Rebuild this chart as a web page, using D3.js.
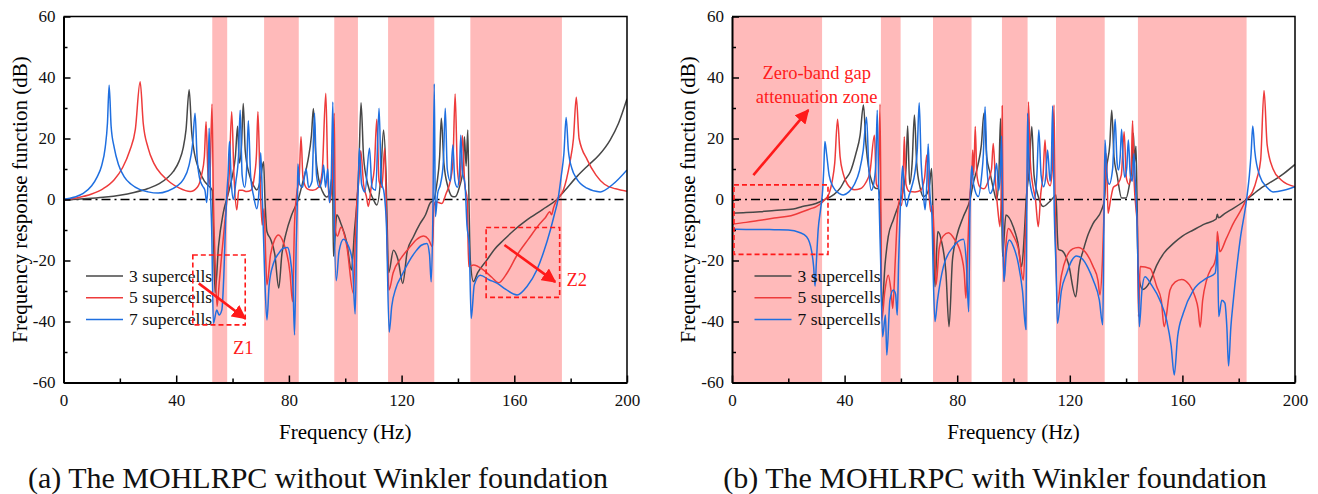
<!DOCTYPE html>
<html>
<head>
<meta charset="utf-8">
<script src="https://cdn.jsdelivr.net/npm/d3@7"></script>
<style>
  body { margin: 0; background: #fff; }
  svg text { font-family: "Liberation Serif", "Times New Roman", serif; }
</style>
</head>
<body>
<div id="chart"></div>
<script>
// ---- data (frequency Hz, FRF dB) ----
var seriesNames = ["3 supercells", "5 supercells", "7 supercells"];
var seriesColors = ["#474747", "#ee3b3b", "#1f6fe0"];

var xTicks = [0, 40, 80, 120, 160, 200];
var xMinor = [20, 60, 100, 140, 180];
var yTicks = [-60, -40, -20, 0, 20, 40, 60];
var yMinor = [-50, -30, -10, 10, 30, 50];

// band gap ranges (Hz)
var bandsA = [[52.8, 58.1], [71.2, 83.5], [96.1, 104.5], [115.2, 131.6], [144.4, 176.9]];
var bandsB = [[0, 32], [52.9, 59.9], [71.4, 85.1], [95.9, 105], [115.1, 132.4], [144.2, 182.8]];

// (a) without Winkler foundation
var a3 = [[0,0],[5,0.1],[10,0.4],[15,0.8],[20,1.4],[25,2.3],[30,3.6],[34,5.2],[37,7.2],[39,9.2],[41,12.5],[42.5,17],[43.5,23],[44.6,36],[45.5,22],[46.5,15],[48,10],[50,6],[51.5,4.5],[52.8,3],[53.2,-10],[53.8,-30.6],[55,-15.5],[56.7,-4.4],[58.5,2],[60,8],[61,14],[61.8,24],[62.4,12],[63.2,18],[63.8,31.5],[64.5,16],[66,8],[67.5,4.5],[68.6,3.1],[69.8,6],[71,12.4],[71.5,0],[72.2,-10.5],[73.5,-13],[75,-18],[76.4,-29],[77.5,-18],[79,-11],[81,-5],[83.3,0],[85,6],[86.8,13],[88,21],[88.7,29.8],[89.5,15],[90.5,7],[92,2.5],[93.5,0.8],[94.6,3],[95.5,8],[95.8,-18.7],[97,-5],[98.5,-8],[100.5,-14],[102.2,-23.1],[103.3,-10],[104.2,0],[104.8,10],[105.6,31.7],[106.5,14],[108,5],[110,0],[111.2,-1.8],[112.5,6],[113.6,22.8],[114.5,8],[115.4,-24],[117.1,-16.6],[118.8,-20],[120.4,-27.5],[122,-17],[124.2,-12.2],[126.5,-8],[128.5,-5],[130.1,-1.2],[131.5,0],[132.5,5],[133.5,14],[134.1,26.6],[135,12],[136.5,4],[138,1],[139,0.9],[140.5,4],[141.8,10],[142.3,20.6],[142.9,11],[143.5,22.8],[144,-5],[144.4,-20],[145.5,-26.9],[147,-24],[150.3,-19.8],[153,-16.3],[156.2,-13.3],[160,-10],[164.5,-6.7],[170,-3.3],[175.1,0],[178,3],[182.2,7.5],[186,11],[190,14.5],[194,19.5],[197,25],[200,33]];
var a5 = [[0,0],[5,0.6],[10,1.8],[14,3.5],[18,6.5],[21,10.5],[23.5,16],[25.5,23],[27.2,38.6],[28.3,25],[30,17],[32,12],[35,8],[38,5.5],[41,3.8],[45,2.6],[47.5,4],[49,8],[50,14],[50.6,25.5],[51.3,8],[51.9,5],[52.7,31.3],[53.2,0],[53.8,-20],[54.5,-35.1],[55.3,-27],[56.2,-17.6],[57.2,-8],[57.9,-1.2],[58.7,6],[59.7,28.8],[60.5,8],[61.5,-3.4],[62.2,3],[63.5,3],[65,2.6],[66.5,3],[67.8,8],[68.5,15],[69,28.8],[69.7,8],[70.5,-8.4],[71.2,-3],[71.8,-20],[72.2,-28],[73.5,-18],[75,-13],[76.3,-11.6],[78,-14],[80.4,-24.2],[81.3,-33.5],[82,-8],[82.8,2],[83.7,8],[84.3,20.6],[85,7],[86.5,3.5],[88.5,3],[90.5,4],[91.8,9],[93.1,34.8],[93.8,8],[94.5,-1],[95.3,5],[96.1,28.3],[96.5,-10],[97.2,-12],[98.5,-9.1],[100.5,-15],[102.9,-30.8],[103.5,-15],[104.2,0],[104.8,6],[105.5,16],[106.5,5],[107.5,1],[108.2,-2.3],[109.2,4],[110.3,10],[111.2,26.3],[112,6],[113,4],[114,16.8],[114.6,-4.5],[115.5,-29.7],[117,-24],[120,-19],[123,-15.5],[125.5,-13],[127.8,-12],[129.5,-13],[131,-15.5],[131.5,-2],[132,-0.7],[134.3,-1.3],[135.8,2],[137,5],[138.2,12],[139,34.6],[139.8,10],[140.6,5],[141.6,21],[142.4,5],[143.3,0],[143.8,-22],[145.5,-21.5],[149,-23.1],[152,-25.5],[154.4,-27.3],[157.5,-24],[161,-18.2],[165,-13],[169.2,-7.8],[171,-6],[172.6,-4],[173.2,-5],[174,-2.5],[175.2,0],[177.4,3],[179.7,12],[181,20],[182,33.5],[183,20],[185.9,13],[189,8],[192,5],[196,3.5],[200,2.7]];
var a7 = [[0,0],[4,0.8],[7,2],[10,4.5],[12,7.5],[13.5,11],[14.8,17],[15.6,25],[16.2,37.5],[16.9,24],[18,17],[19.5,11.5],[21.5,7.5],[24,5],[27,3.3],[30,2.5],[33.6,2.1],[37,2.8],[40,4.2],[42.5,6.5],[44.5,11],[45.8,18],[46.7,28.3],[47.4,14],[48.3,7],[49.3,4.5],[50.2,3],[50.8,-1],[51.3,6],[51.7,23.4],[52.1,5],[52.6,-10],[53.2,-40.6],[54.4,-36.2],[55.2,-37.9],[56.2,-36.2],[56.9,-25],[57.5,-8],[57.9,0.9],[58.4,8],[58.9,19],[59.6,5],[60.3,0],[61.2,6],[62.1,14],[62.7,29.3],[63.4,8],[64.3,4],[65,10],[65.6,25.8],[66.4,8],[67.5,1],[68.6,-3],[69.4,3],[70,15.3],[70.6,0],[71.4,-25],[72.2,-39.5],[73,-28],[74.5,-21],[76.5,-17.5],[78,-16],[79.5,-15.7],[80.6,-20],[81.5,-30],[82,-44.4],[82.6,-15],[83,0],[83.2,11.6],[83.8,5],[84.8,4],[86.1,10],[87,4],[88.2,6],[89.1,28.3],[89.8,8],[90.8,4],[91.8,7],[92.3,11.3],[93,4],[93.8,10],[94.4,-1],[95,6],[95.6,32],[96,0],[96.8,-26.6],[97.8,-17],[99.4,-13],[101,-15],[102.5,-20],[103.5,-37.5],[104.1,-12],[104.5,0],[105,16.8],[105.8,5],[107,2.5],[108.6,16.8],[109.5,4],[110.8,3],[112,29.9],[112.8,6],[113.8,2],[114.6,-8],[115.6,-43.5],[116.5,-35],[118,-29],[120,-25],[122.5,-20.5],[125,-17],[127,-15],[129,-14.4],[129.9,-18],[130.5,-27],[131.1,-5],[131.6,37.9],[132,-5.6],[132.8,2],[133.8,5],[134.8,12],[135.5,29.9],[136.2,10],[137.3,6],[138.2,17.9],[138.9,6],[139.8,4],[140.5,8],[141,21.1],[141.6,9],[142.5,5],[143.2,-8.4],[144,-15],[144.7,-39],[145.8,-28],[147.9,-24.8],[151,-26.3],[154,-27.5],[157,-29.5],[161,-31.3],[164.5,-28.5],[168,-23.1],[170.5,-17],[172.8,-10],[174.2,-5],[175.5,0],[176.7,8],[177.6,15],[178.4,26.9],[179.2,16],[180.5,10],[182,7],[185.8,3.7],[190.5,2.5],[195,5],[200,9.7]];

// (b) with Winkler foundation
var b3 = [[0,-4.5],[5,-4.3],[10,-4],[15,-3.6],[21.8,-3.1],[25,-2.3],[29.8,-1.3],[33,0],[36,1.5],[38.5,3.8],[40.1,6.4],[42,9],[44,15],[45.5,21],[46.7,31],[47.6,18],[48.6,10],[49.8,5.5],[51,3.7],[52,3.5],[52.6,0],[53.2,-36],[54.4,-21],[55.5,-12.2],[57.3,-6.7],[58.5,-3.5],[59.7,-0.7],[60.8,3],[61.8,10],[62.4,24.1],[63.1,5],[64,12],[64.8,27.7],[65.6,12],[66.8,4],[68,1],[69,1.5],[70.2,5],[70.9,10.2],[71.4,-5],[72.1,-28.6],[73.1,-10.5],[74.5,-14],[76,-24],[77.1,-41.7],[78.3,-20],[79.8,-12.2],[82.2,-5.6],[84.5,-0.2],[85.7,5.3],[87.3,11],[88.6,18],[89.5,28.3],[90.5,14],[91.7,8.6],[93,3],[94,-0.2],[94.8,8],[95.4,26.6],[95.8,0],[96.1,-18.7],[97.3,-5.1],[99.9,-8.9],[101.5,-14],[102.9,-22],[103.8,-12],[104.5,0],[105.6,10],[106.5,23.9],[107.3,8],[108.8,1],[110.6,-2.3],[112.5,-1],[114.5,1],[115.1,1.5],[115.6,-12],[115.9,-16.3],[117.5,-17],[119.5,-21],[122.1,-31.9],[123.3,-22],[124.8,-16.6],[126.5,-11.5],[128.3,-7.8],[131.3,-3.4],[132.3,0],[133,9.7],[134.2,18],[134.9,29.3],[135.7,14],[136.8,8],[138.4,0.5],[140,0.5],[141.2,5],[142,10],[142.6,21.7],[143,12],[143.5,17.5],[143.9,0],[144.3,-24],[145.9,-29.5],[148.5,-26.9],[150.9,-21.5],[153.5,-17.5],[156.8,-14.4],[160,-12],[163.9,-10],[168,-8],[172,-6.4],[172.4,-4.8],[172.8,-6],[175,-4.6],[178.1,-2.9],[182.8,0],[185.5,2],[188.7,4.2],[192,6],[196,8.5],[200,11.5]];
var b5 = [[0,-8.1],[5,-7.5],[10,-6.8],[15,-6.1],[21.8,-5.1],[25,-4],[28,-3],[29.8,-2.4],[32,-1],[33,0],[34.5,2],[35.6,6],[36.5,12],[37.5,26.3],[38.4,14],[39.5,8.5],[41,5],[43.5,3.2],[45.5,3.5],[47.5,5.5],[49,9],[50.6,21.1],[51.3,5],[52,4],[52.6,31.3],[53.2,-39.5],[54.3,-30],[55.5,-24.8],[56.5,-30],[57.1,-35.7],[58,-20],[58.8,-5],[59.5,0],[60.2,-2],[60.8,6],[61.2,20.6],[61.8,5],[63,2.6],[65,2.5],[67,3],[68.4,7],[69.2,14.6],[69.9,3],[70.6,-4],[71.3,-2],[72,-18],[72.5,-28],[73.6,-16],[75,-12],[76.9,-10.9],[79,-13],[81.6,-18.8],[82.5,-24],[83.1,-32.4],[83.8,-15],[84.4,0],[85.2,8],[85.5,16.2],[85.9,8],[86.4,23.9],[87,8],[88,4.2],[89.5,3.5],[91,6],[92.2,10],[92.8,18.4],[93.6,6],[94.5,-4],[95.2,-8.9],[95.7,5],[96,30.7],[96.3,-10],[96.6,-26.9],[97.3,-15],[98.2,-9.5],[100,-12],[101.7,-16],[103.5,-26.4],[104.2,-12],[104.7,0],[105,10],[105.3,32],[106,12],[106.8,5],[107.8,0],[108.8,-8.9],[109.7,2],[110.5,8],[111.2,19.5],[111.9,7],[113,4.5],[113.8,10],[114.4,31],[114.9,-10],[115.6,-34],[117,-25],[118.9,-18.7],[121,-16.2],[123,-15.7],[125.5,-17.2],[128.3,-22],[130,-26.5],[130.7,-31.3],[131.6,-20],[132.3,0],[132.9,15.1],[133.3,5],[133.6,-4.5],[134.5,0],[135.5,4],[137,5],[138.3,8],[139.3,22.2],[140.1,7],[141,5],[141.8,10],[142.3,25.8],[142.9,5],[143.5,-3],[144,-8.9],[144.4,-38.4],[145,-22],[148.5,-22.6],[150.9,-28.6],[152.5,-33],[153.5,-41.7],[155.6,-29.7],[157.5,-27],[159.7,-26.2],[162.5,-28],[164.5,-31.9],[165.6,-36],[166.3,-41.9],[167.2,-33],[168.6,-26.4],[170.3,-22.5],[171.3,-21.1],[172.2,-17],[172.4,-10.5],[173.3,-17.1],[175.5,-13],[178.1,-7.8],[180.5,-4],[182.8,0],[184.9,2.5],[186.5,7],[187.8,13],[189,35.7],[190.1,18],[192.2,10],[195,6.5],[200,4.2]];
var b7 = [[0,-9.7],[5,-9.8],[10,-9.8],[15,-9.9],[20,-10],[24,-10.8],[26.5,-12.2],[28.3,-17],[29,-22],[29.5,-28.4],[30,-20],[30.6,-10],[31.5,-3],[32.2,3],[32.6,10],[33,19],[33.6,15],[34.5,8],[36,4],[38,2],[39.5,1.5],[41.5,2.5],[43.5,5],[45.3,9.5],[46.6,16],[47.8,27],[48.6,10],[49.5,3],[50.5,6],[51.1,12],[51.6,29.3],[52.1,5],[52.8,-20],[53.5,-45],[54.5,-37.9],[55,-51],[56.1,-33],[57.3,-29.7],[58.1,-31],[58.7,-37.9],[59.2,-20],[59.7,-5],[60.1,3],[60.6,11],[61.2,3],[62,-2.3],[62.8,1],[63.8,4],[65,9],[65.8,16],[66.5,31.7],[67.2,12],[67.9,3],[68.6,-3.4],[69.2,5],[69.7,18.2],[70.3,2],[71,-5],[71.5,-25],[72.1,-40],[73,-33],[75.1,-22],[78.6,-15.5],[82.2,-13],[83.2,-20],[84.1,-36.8],[84.5,-5],[84.8,5],[85.2,11],[85.8,5],[87.5,1],[88.7,8],[89.3,15],[89.9,30.4],[90.6,10],[91.7,2],[93,5],[94,11.9],[94.7,3],[95.3,8],[95.8,20.8],[96.2,-10],[96.6,-26.9],[97.5,-17],[98.5,-13.3],[100,-15.5],[101.7,-21],[103.2,-30],[104.4,-42.6],[104.7,-5],[105,28.3],[105.6,8],[106.6,2],[107.5,0],[108.3,8],[109,22.8],[109.8,8],[110.7,4.2],[111.5,8],[112.1,16.2],[113,6],[113.4,10],[113.9,30.7],[114.5,-5],[115.2,-25],[115.6,-40.6],[117,-30],[118.9,-24.2],[120.7,-20],[122.4,-18.5],[124.5,-19.5],[126.5,-22.5],[128.3,-26.4],[130.5,-33],[131.7,-41.1],[132.1,-10],[132.5,19.5],[133.2,8],[134,5],[135.2,10],[136.1,26.3],[136.8,12],[137.3,9.7],[137.9,14],[138.4,23],[139,12],[139.5,7.3],[140.2,10],[140.8,19.5],[141.5,8],[142.2,6],[142.8,15.1],[143.3,5],[143.8,-5],[144.3,-25],[144.7,-41.7],[145.6,-30],[146.7,-25.3],[149,-28],[152,-33],[154.5,-40],[156,-48],[157.1,-57.5],[158.3,-45],[160.3,-37.3],[163.9,-29.7],[168.6,-25.8],[171.6,-24.2],[172.1,-20],[172.4,-13.8],[172.9,-38.4],[174,-33],[175.1,-34],[175.8,-42],[176.4,-54.6],[177.2,-42],[178.1,-33],[180.5,-13.3],[182.8,0],[183.8,8],[184.4,15],[185,24.1],[185.7,16],[187.5,7.7],[190,4],[192.2,2.5],[196,3],[200,4.2]];

var width = 1318, height = 494;
var plotTop = 16.5, plotBottom = 382.5;

var svg = d3.select("#chart").append("svg")
  .attr("width", width)
  .attr("height", height);

var panels = [
  { id: "a", left: 63.5, right: 627, bands: bandsA, series: [a3, a5, a7],
    caption: "(a) The MOHLRPC without Winkler foundation", capX: 318 },
  { id: "b", left: 732, right: 1295, bands: bandsB, series: [b3, b5, b7],
    caption: "(b) The MOHLRPC with Winkler foundation", capX: 995 }
];

var red = "#ff1a1a";
// plain hyphen for negative tick labels, like the original
var fmt = function(d) { return String(d); };

// arrow head marker
svg.append("defs").append("marker")
  .attr("id", "head")
  .attr("viewBox", "0 0 10 10")
  .attr("refX", 9).attr("refY", 5)
  .attr("markerWidth", 5.5).attr("markerHeight", 5.5)
  .attr("markerUnits", "strokeWidth")
  .attr("orient", "auto")
  .append("path")
  .attr("d", "M0,0 L10,5 L0,10 z")
  .attr("fill", red);

panels.forEach(function(p) {
  var x = d3.scaleLinear().domain([0, 200]).range([p.left, p.right]);
  var y = d3.scaleLinear().domain([-60, 60]).range([plotBottom, plotTop]);
  var g = svg.append("g");

  g.append("clipPath").attr("id", "clip-" + p.id)
    .append("rect")
    .attr("x", p.left).attr("y", plotTop)
    .attr("width", p.right - p.left).attr("height", plotBottom - plotTop);

  // band gaps
  g.selectAll(".band").data(p.bands).enter().append("rect")
    .attr("x", function(d) { return x(d[0]); })
    .attr("y", plotTop)
    .attr("width", function(d) { return x(d[1]) - x(d[0]); })
    .attr("height", plotBottom - plotTop)
    .attr("fill", "#ffbaba");

  // zero reference line
  g.append("line")
    .attr("x1", p.left).attr("x2", p.right)
    .attr("y1", y(0)).attr("y2", y(0))
    .attr("stroke", "#000").attr("stroke-width", 1.3)
    .attr("stroke-dasharray", "9,4,2,4");

  var line = d3.line()
    .x(function(d) { return x(d[0]); })
    .y(function(d) { return y(d[1]); })
    .curve(d3.curveMonotoneX);

  g.append("g").attr("clip-path", "url(#clip-" + p.id + ")")
    .selectAll("path").data(p.series).enter().append("path")
    .attr("d", line)
    .attr("fill", "none")
    .attr("stroke", function(d, i) { return seriesColors[i]; })
    .attr("stroke-width", 1.5)
    .attr("stroke-linejoin", "round");

  // axes, ticks inward
  g.append("g").attr("transform", "translate(0," + plotBottom + ")")
    .call(d3.axisBottom(x).tickValues(xTicks).tickFormat(fmt).tickSize(-7).tickSizeOuter(0).tickPadding(11));
  g.append("g").attr("transform", "translate(0," + plotBottom + ")")
    .call(d3.axisBottom(x).tickValues(xMinor).tickSize(-4).tickSizeOuter(0).tickFormat(""))
    .select(".domain").remove();
  g.append("g").attr("transform", "translate(" + p.left + ",0)")
    .call(d3.axisLeft(y).tickValues(yTicks).tickFormat(fmt).tickSize(-7).tickSizeOuter(0).tickPadding(8));
  g.append("g").attr("transform", "translate(" + p.left + ",0)")
    .call(d3.axisLeft(y).tickValues(yMinor).tickSize(-4).tickSizeOuter(0).tickFormat(""))
    .select(".domain").remove();

  g.selectAll(".tick line").attr("stroke", "#000").attr("stroke-width", 1.5);
  g.selectAll(".domain").attr("stroke", "#000").attr("stroke-width", 2);
  g.selectAll(".tick text")
    .attr("font-family", "Liberation Serif")
    .attr("font-size", 17)
    .attr("fill", "#111");

  // frame top/right
  g.append("path")
    .attr("d", "M" + p.left + "," + plotTop + "H" + p.right + "V" + plotBottom)
    .attr("fill", "none").attr("stroke", "#000").attr("stroke-width", 1.5);

  // axis titles
  g.append("text")
    .attr("x", (p.left + p.right) / 2).attr("y", 439)
    .attr("text-anchor", "middle")
    .attr("font-size", 21)
    .text("Frequency (Hz)");
  g.append("text")
    .attr("transform", "translate(" + (p.left - 37) + "," + ((plotTop + plotBottom) / 2) + ") rotate(-90)")
    .attr("text-anchor", "middle")
    .attr("font-size", 21)
    .text("Frequency response function (dB)");

  // legend
  var lg = g.append("g").attr("transform", "translate(" + (p.left + 22.5) + ",276)");
  seriesNames.forEach(function(name, i) {
    lg.append("line")
      .attr("x1", 0).attr("x2", 37)
      .attr("y1", i * 21.7).attr("y2", i * 21.7)
      .attr("stroke", seriesColors[i]).attr("stroke-width", 1.5);
    lg.append("text")
      .attr("x", 43).attr("y", i * 21.7)
      .attr("dy", "0.33em")
      .attr("font-size", 17.5)
      .attr("fill", "#111")
      .text(name);
  });

  // caption
  svg.append("text")
    .attr("x", p.capX).attr("y", 488)
    .attr("text-anchor", "middle")
    .attr("font-size", 30)
    .attr("fill", "#111")
    .text(p.caption);

  p.x = x; p.y = y; p.g = g;
});

// ---- annotations ----
function dashBox(p, f0, f1, d0, d1) {
  p.g.append("rect")
    .attr("x", p.x(f0)).attr("y", p.y(d1))
    .attr("width", p.x(f1) - p.x(f0)).attr("height", p.y(d0) - p.y(d1))
    .attr("fill", "none").attr("stroke", red)
    .attr("stroke-width", 1.6).attr("stroke-dasharray", "5,3");
}
function arrow(p, f0, d0, f1, d1) {
  p.g.append("line")
    .attr("x1", p.x(f0)).attr("y1", p.y(d0))
    .attr("x2", p.x(f1)).attr("y2", p.y(d1))
    .attr("stroke", red).attr("stroke-width", 2.6)
    .attr("marker-end", "url(#head)");
}
function label(p, f, d, txt) {
  p.g.append("text")
    .attr("x", p.x(f)).attr("y", p.y(d))
    .attr("dy", "0.35em")
    .attr("text-anchor", "middle")
    .attr("font-size", 18.5)
    .attr("fill", red)
    .text(txt);
}

var pa = panels[0], pb = panels[1];
dashBox(pa, 45.9, 64.5, -41.1, -18.2);
arrow(pa, 48, -27.5, 64.5, -39);
label(pa, 63.8, -48.4, "Z1");
dashBox(pa, 150, 176.1, -32.1, -9.2);
arrow(pa, 156.5, -14.9, 174.5, -27);
label(pa, 182.2, -26.2, "Z2");

dashBox(pb, 0.7, 34.1, -18, 4.8);
arrow(pb, 7.6, 8.0, 27.1, 29.3);
label(pb, 30.1, 41.6, "Zero-band gap");
label(pb, 30.1, 33.7, "attenuation zone");
</script>
</body>
</html>
